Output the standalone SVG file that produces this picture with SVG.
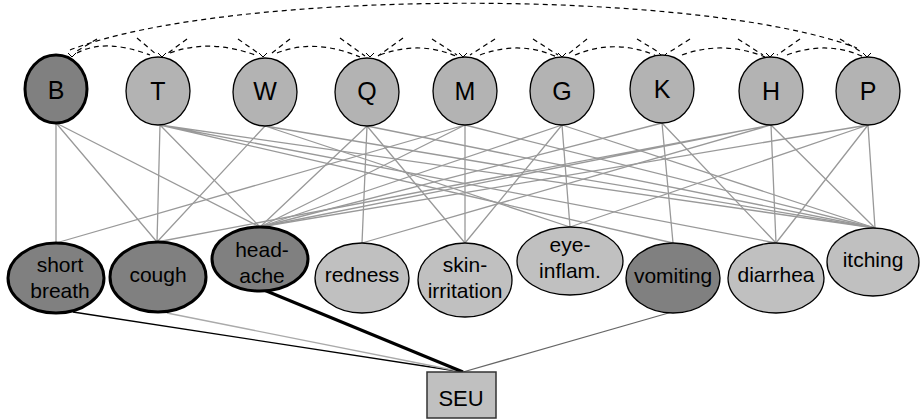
<svg xmlns="http://www.w3.org/2000/svg" width="920" height="420" viewBox="0 0 920 420">
<style>
.t{font-family:"Liberation Sans",Arial,sans-serif;font-size:25px;fill:#000;text-anchor:middle}
.s{font-family:"Liberation Sans",Arial,sans-serif;font-size:21px;fill:#000;text-anchor:middle}
.n{fill:#b3b3b3;stroke:#000;stroke-width:1.3}
.l{fill:#c0c0c0;stroke:#000;stroke-width:1.3}
.d{fill:#808080;stroke:#000;stroke-width:1.3}
.k{stroke-width:3}
.e{stroke:#999;stroke-width:1.3;fill:none}
.a{stroke:#000;stroke-width:1.2;fill:none;stroke-dasharray:5,4}
.h{stroke:#000;stroke-width:1;fill:none}
</style>
<g id="connectors">
<g id="arcs">
<path class="a" d="M70,50 C230,-12 700,-12 857,48"/>
<path class="a" d="M77,53 Q105,38 150,55"/>
<path class="a" d="M170,53 Q210,38 258,56"/>
<path class="a" d="M277,53 Q315,38 360,57"/>
<path class="a" d="M380,55 Q420,40 458,57"/>
<path class="a" d="M480,55 Q520,40 557,57"/>
<path class="a" d="M575,55 Q615,38 657,56"/>
<path class="a" d="M682,55 Q723,40 765,57"/>
<path class="a" d="M787,55 Q827,40 864,57"/>
<path class="a" d="M97,39 L77,51"/>
<path class="a" d="M137,38 L157,55 M187,39 L168,53"/>
<path class="a" d="M238,39 L258,53 M290,39 L272,53"/>
<path class="a" d="M340,38 L365,56 M403,38 L378,56"/>
<path class="a" d="M432,39 L457,55 M495,39 L470,55"/>
<path class="a" d="M533,39 L558,55 M587,39 L567,55"/>
<path class="a" d="M637,39 L660,53 M690,39 L668,53"/>
<path class="a" d="M738,39 L763,55 M800,39 L777,55"/>
<path class="a" d="M840,39 L863,53"/>
<path class="h" d="M68,53 L72,57 L76,53 M158,53 L162,57 L166,53 M259,53 L263,57 L267,53 M366,53 L370,57 L374,53 M459,53 L463,57 L467,53 M558,53 L562,57 L566,53 M659,53 L663,57 L667,53 M766,53 L770,57 L774,53 M863,53 L867,57 L871,53"/>
</g>
<g id="edges">
<path class="e" d="M56,123 L56,243 M56,123 L157,242 M56,123 L260,227"/>
<path class="e" d="M160,125 L157,242 M160,125 L260,227 M160,125 L673,243 M160,125 L776,243 M160,125 L875,228"/>
<path class="e" d="M265,126 L157,242 M265,126 L570,227 M265,126 L875,228"/>
<path class="e" d="M367,126 L260,227 M367,126 L362,243 M367,126 L465,243 M367,126 L875,228"/>
<path class="e" d="M465,125 L56,243 M465,125 L260,227 M465,125 L465,243 M465,125 L875,228"/>
<path class="e" d="M562,125 L260,227 M562,125 L465,243 M562,125 L570,227 M562,125 L875,228"/>
<path class="e" d="M662,123 L260,227 M662,123 L673,243 M662,123 L776,243"/>
<path class="e" d="M771,125 L260,227 M771,125 L157,242 M771,125 L362,243 M771,125 L776,243 M771,125 L875,228"/>
<path class="e" d="M868,125 L260,227 M868,125 L570,227 M868,125 L776,243 M868,125 L875,228"/>
</g>
<g id="seu-links">
<path d="M73,312 L463,372" stroke="#000" stroke-width="1.3" fill="none"/>
<path d="M167,313 L463,372" stroke="#aaa" stroke-width="1.3" fill="none"/>
<path d="M264,290 L463,372" stroke="#000" stroke-width="3" fill="none"/>
<path d="M672,312 L463,372" stroke="#666" stroke-width="1.3" fill="none"/>
</g>
</g>
<g id="B"><ellipse class="d k" cx="56" cy="89" rx="31" ry="34"/><text class="t" x="56" y="99">B</text></g>
<g id="T"><ellipse class="n" cx="158" cy="91" rx="32" ry="34"/><text class="t" x="158" y="100">T</text></g>
<g id="W"><ellipse class="n" cx="265" cy="92" rx="32" ry="34"/><text class="t" x="265" y="100">W</text></g>
<g id="Q"><ellipse class="n" cx="367" cy="92" rx="32" ry="34"/><text class="t" x="367" y="100">Q</text></g>
<g id="M"><ellipse class="n" cx="465" cy="91" rx="32" ry="34"/><text class="t" x="465" y="100">M</text></g>
<g id="G"><ellipse class="n" cx="562" cy="91" rx="32" ry="34"/><text class="t" x="562" y="100">G</text></g>
<g id="K"><ellipse class="n" cx="662" cy="89" rx="32" ry="34"/><text class="t" x="662" y="98">K</text></g>
<g id="H"><ellipse class="n" cx="771" cy="91" rx="32" ry="34"/><text class="t" x="771" y="100">H</text></g>
<g id="P"><ellipse class="n" cx="868" cy="91" rx="32" ry="34"/><text class="t" x="868" y="100">P</text></g>
<g id="short-breath"><ellipse class="d k" cx="56" cy="278" rx="48" ry="35"/><text class="s" x="60" y="272">short</text><text class="s" x="60" y="298">breath</text></g>
<g id="cough"><ellipse class="d k" cx="158" cy="277" rx="48" ry="35"/><text class="s" x="158" y="282">cough</text></g>
<g id="headache"><ellipse class="d k" cx="260" cy="259" rx="48" ry="32"/><text class="s" x="262" y="257">head-</text><text class="s" x="262" y="283">ache</text></g>
<g id="redness"><ellipse class="l" cx="362" cy="278" rx="47" ry="35"/><text class="s" x="362" y="282">redness</text></g>
<g id="skin-irritation"><ellipse class="l" cx="465" cy="280" rx="47" ry="37"/><text class="s" x="465" y="272">skin-</text><text class="s" x="465" y="298">irritation</text></g>
<g id="eye-inflam"><ellipse class="l" cx="570" cy="261" rx="53" ry="34"/><text class="s" x="570" y="252">eye-</text><text class="s" x="570" y="278">inflam.</text></g>
<g id="vomiting"><ellipse class="d" cx="673" cy="278" rx="47" ry="35"/><text class="s" x="673" y="283">vomiting</text></g>
<g id="diarrhea"><ellipse class="l" cx="776" cy="278" rx="48" ry="35"/><text class="s" x="776" y="282">diarrhea</text></g>
<g id="itching"><ellipse class="l" cx="873" cy="262" rx="46" ry="34"/><text class="s" x="873" y="267">itching</text></g>
<g id="SEU"><rect x="427" y="372" width="69" height="46" fill="#c0c0c0" stroke="#333" stroke-width="1.5"/><text class="s" x="461" y="406" style="font-size:22px">SEU</text></g>
</svg>
